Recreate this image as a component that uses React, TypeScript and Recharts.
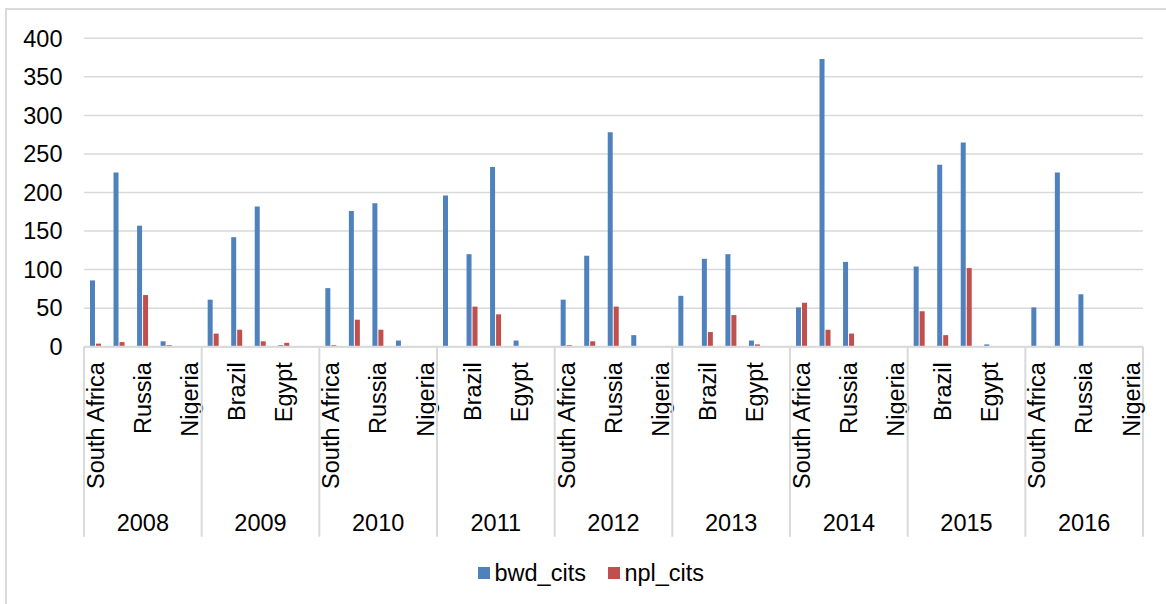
import React from 'react';
import { BarChart, Bar, XAxis, YAxis, CartesianGrid } from 'recharts';

// Citation counts per year and country
const YEARS = ['2008', '2009', '2010', '2011', '2012', '2013', '2014', '2015', '2016'];
const COUNTRIES = ['South Africa', 'Brazil', 'Russia', 'Egypt', 'Nigeria'];

// One value per (year, country), in the order of YEARS × COUNTRIES
const BWD_CITS = [
  86, 226, 157, 7, 0,
  61, 142, 182, 2, 0,
  76, 176, 186, 8, 0,
  196, 120, 233, 8, 0,
  61, 118, 278, 15, 0,
  66, 114, 120, 8, 0,
  51, 373, 110, 0, 0,
  104, 236, 265, 3, 0,
  51, 226, 68, 0, 0,
];
const NPL_CITS = [
  4, 6, 67, 2, 0,
  17, 22, 7, 5, 0,
  2, 35, 22, 0, 0,
  0, 52, 42, 0, 0,
  2, 7, 52, 0, 0,
  0, 19, 41, 3, 0,
  57, 22, 17, 0, 0,
  46, 15, 102, 0, 0,
  0, 0, 0, 0, 0,
];
const Y_TICKS = [0, 50, 100, 150, 200, 250, 300, 350, 400];

const SERIES = [
  { key: 'bwd_cits', color: '#4f81bd', values: BWD_CITS },
  { key: 'npl_cits', color: '#c0504d', values: NPL_CITS },
];

const data = YEARS.flatMap((year, yi) =>
  COUNTRIES.map((country, ci) => {
    const row: Record<string, string | number> = { key: `${year}-${country}`, year, country };
    SERIES.forEach((s) => {
      row[s.key] = s.values[yi * COUNTRIES.length + ci];
    });
    return row;
  })
);

const WIDTH = 1166;
const HEIGHT = 604;
const PLOT_LEFT = 84;
const PLOT_RIGHT = 1143;
const PLOT_TOP = 38.3;
const PLOT_BOTTOM = 346.7;
const X_AXIS_HEIGHT = 200;
const CAT_W = (PLOT_RIGHT - PLOT_LEFT) / data.length;
const FONT = 23.5;
const GRID = '#d9d9d9';

// Two-level category axis: rotated country names, year groups with separators
const CategoryTick = (props: any) => {
  const { x, y, index } = props;
  const row = data[index];
  const n = COUNTRIES.length;
  const parts: React.ReactNode[] = [];
  if (index % n === 0) {
    parts.push(
      <line key="sep" x1={x - CAT_W / 2} x2={x - CAT_W / 2} y1={y} y2={y + 190} stroke={GRID} strokeWidth={2} />
    );
  }
  if (index === data.length - 1) {
    parts.push(
      <line key="sepEnd" x1={x + CAT_W / 2} x2={x + CAT_W / 2} y1={y} y2={y + 190} stroke={GRID} strokeWidth={2} />
    );
  }
  if (index % 2 === 0) {
    parts.push(
      <text
        key="country"
        transform={`translate(${x + 8.3}, ${y + 15.5}) rotate(-90)`}
        textAnchor="end"
        fontSize={FONT}
        fill="#000"
      >
        {row.country}
      </text>
    );
  }
  if (index % n === Math.floor(n / 2)) {
    parts.push(
      <text key="year" x={x} y={y + 184} textAnchor="middle" fontSize={FONT} fill="#000">
        {row.year}
      </text>
    );
  }
  return <g>{parts}</g>;
};

export default function App() {
  return (
    <div
      style={{
        position: 'absolute',
        left: 0,
        top: 0,
        width: WIDTH,
        height: HEIGHT,
        overflow: 'hidden',
        background: '#fff',
        fontFamily: '"Liberation Sans", Arial, sans-serif',
      }}
    >
      <div
        style={{
          position: 'absolute',
          left: 5,
          top: 8,
          width: WIDTH + 20,
          height: HEIGHT + 20,
          border: `2px solid ${GRID}`,
        }}
      />
      <div style={{ position: 'absolute', left: 0, top: 0 }}>
        <BarChart
          width={WIDTH}
          height={HEIGHT}
          data={data}
          barSize={5}
          barGap={1}
          margin={{
            top: PLOT_TOP,
            right: WIDTH - PLOT_RIGHT,
            bottom: HEIGHT - PLOT_BOTTOM - X_AXIS_HEIGHT,
            left: 0,
          }}
        >
          <CartesianGrid vertical={false} stroke={GRID} strokeWidth={1.5} />
          <XAxis
            dataKey="key"
            interval={0}
            height={X_AXIS_HEIGHT}
            tickLine={false}
            tickSize={0}
            tickMargin={0}
            axisLine={{ stroke: GRID, strokeWidth: 2 }}
            tick={<CategoryTick />}
          />
          <YAxis
            width={PLOT_LEFT}
            domain={[0, 400]}
            ticks={Y_TICKS}
            interval={0}
            axisLine={false}
            tickLine={false}
            tickSize={0}
            tickMargin={21.5}
            tick={{ fontSize: FONT, fill: '#000' }}
          />
          {SERIES.map((s) => (
            <Bar key={s.key} dataKey={s.key} fill={s.color} isAnimationActive={false} />
          ))}
        </BarChart>
      </div>
      <div
        style={{
          position: 'absolute',
          left: 478,
          top: 559,
          display: 'flex',
          alignItems: 'center',
          fontSize: FONT,
          color: '#000',
          lineHeight: '28px',
        }}
      >
        {SERIES.map((s) => (
          <div key={s.key} style={{ display: 'flex', alignItems: 'center', marginRight: 22 }}>
            <span style={{ display: 'inline-block', width: 12, height: 12, background: s.color, marginRight: 4.5 }} />
            <span>{s.key}</span>
          </div>
        ))}
      </div>
    </div>
  );
}
